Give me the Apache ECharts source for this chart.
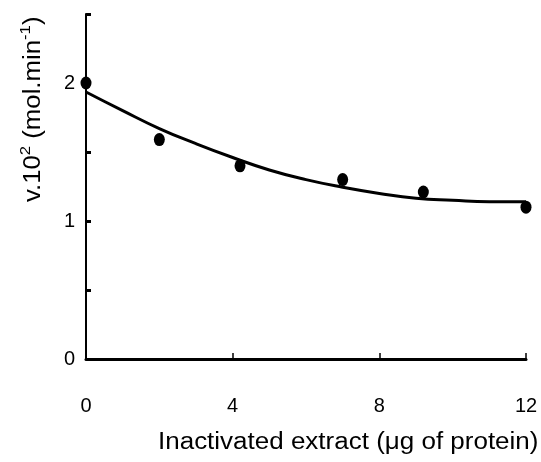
<!DOCTYPE html>
<html><head><meta charset="utf-8">
<script src="https://cdn.jsdelivr.net/npm/echarts@6/dist/echarts.min.js"></script>
<style>html,body{margin:0;padding:0;background:#fff}#c{width:541px;height:462px}</style>
</head><body><div id="c"></div>
<script>
var pointX = [0, 2, 4.2, 7, 9.2, 12];
var pointY = [2.0, 1.59, 1.40, 1.30, 1.21, 1.10];
var curveX = [0, 1, 2, 3, 4, 5, 6, 7, 8, 9, 10, 11, 12];
var curveY = [1.935, 1.80, 1.67, 1.56, 1.46, 1.37, 1.30, 1.245, 1.20, 1.165, 1.15, 1.14, 1.14];
var xTicks = [0, 4, 8, 12];
var yTickLabels = [0, 1, 2];

var chart = echarts.init(document.getElementById('c'));
var font = 'Liberation Sans, Arial, sans-serif';
chart.setOption({
  animation: false,
  grid: {left: 86, right: 15, top: 14, bottom: 103},
  xAxis: {
    type: 'value', min: 0, max: 12, interval: 4,
    splitLine: {show: false},
    axisLine: {lineStyle: {color: '#000', width: 3}},
    axisTick: {inside: true, length: 6, lineStyle: {color: '#000', width: 1.5}},
    axisLabel: {margin: 37, color: '#000', fontSize: 20, fontFamily: font,
      formatter: function (v) { return xTicks.indexOf(v) >= 0 ? String(v) : ''; }}
  },
  yAxis: {
    type: 'value', min: 0, max: 2.5, interval: 0.5,
    splitLine: {show: false},
    axisLine: {show: true, lineStyle: {color: '#000', width: 2}},
    axisTick: {show: true, inside: true, length: 5, lineStyle: {color: '#000', width: 3}},
    axisLabel: {margin: 11, color: '#000', fontSize: 20, fontFamily: font,
      formatter: function (v) { return yTickLabels.indexOf(v) >= 0 ? String(v) : ''; }}
  },
  series: [
    {type: 'line', smooth: true, symbol: 'none',
      lineStyle: {color: '#000', width: 3},
      data: curveX.map(function (x, i) { return [x, curveY[i]]; })},
    {type: 'scatter', symbol: 'circle', symbolSize: [11, 13],
      itemStyle: {color: '#000', opacity: 1},
      data: pointX.map(function (x, i) { return [x, pointY[i]]; })}
  ],
  graphic: [
    {type: 'text', x: 158, y: 431, scaleX: 1.13,
      style: {text: 'Inactivated extract (\u03bcg of protein)', fill: '#000', fontSize: 23, fontFamily: font}},
    {type: 'text', x: 18, y: 202, rotation: Math.PI / 2, scaleX: 1.12,
      style: {text: '{n|v.10}{s|2}{n| (mol.min}{s|-1}{n|)}', fill: '#000', fontFamily: font,
        rich: {n: {fontSize: 23, fontFamily: font, fill: '#000', verticalAlign: 'bottom'},
               s: {fontSize: 15, fontFamily: font, fill: '#000', verticalAlign: 'top', padding: [0, 0, 12, 0]}}}}
  ]
});
</script></body></html>
